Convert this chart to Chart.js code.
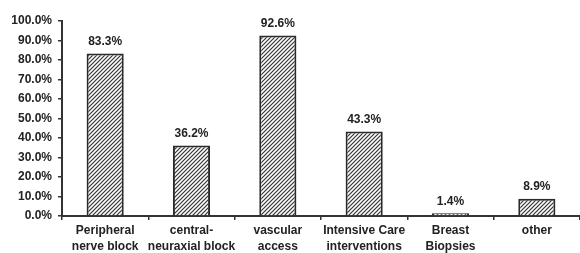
<!DOCTYPE html>
<html>
<head>
<meta charset="utf-8">
<script src="https://cdn.jsdelivr.net/npm/chart.js@4"></script>
<style>
  body { margin: 0; background: #fff; }
  #wrap { width: 580px; height: 253px; }
</style>
</head>
<body>
<div id="wrap"><canvas id="chart"></canvas></div>
<script>
'use strict';
const categories = [
  ['Peripheral', 'nerve block'],
  ['central-', 'neuraxial block'],
  ['vascular', 'access'],
  ['Intensive Care', 'interventions'],
  ['Breast', 'Biopsies'],
  ['other']
];
const percentages = [83.3, 36.2, 92.6, 43.3, 1.4, 8.9];
const yTicks = [0, 10, 20, 30, 40, 50, 60, 70, 80, 90, 100];

const textColor = '#222';
const lineColor = '#333';
const font = { family: 'Liberation Sans, Arial, sans-serif', size: 12, weight: 'bold' };

const ctx = document.getElementById('chart').getContext('2d');

// diagonal hatching for the bars
function makeHatch() {
  const c = document.createElement('canvas');
  c.width = 4;
  c.height = 4;
  const x = c.getContext('2d');
  x.fillStyle = '#fff';
  x.fillRect(0, 0, 4, 4);
  x.strokeStyle = '#333';
  x.lineWidth = 1.2;
  x.beginPath();
  x.moveTo(0, 4); x.lineTo(4, 0);
  x.moveTo(-1, 1); x.lineTo(1, -1);
  x.moveTo(3, 5); x.lineTo(5, 3);
  x.stroke();
  return ctx.createPattern(c, 'repeat');
}

// draws the percentage above every bar
const valueLabels = {
  id: 'valueLabels',
  afterDatasetsDraw(chart) {
    const c = chart.ctx;
    const meta = chart.getDatasetMeta(0);
    c.save();
    c.font = `${font.weight} ${font.size}px ${font.family}`;
    c.fillStyle = textColor;
    c.textAlign = 'center';
    c.textBaseline = 'bottom';
    meta.data.forEach((bar, i) => {
      c.fillText(percentages[i].toFixed(1) + '%', bar.x, bar.y - 6);
    });
    c.restore();
  }
};

new Chart(ctx, {
  type: 'bar',
  data: {
    labels: categories,
    datasets: [{
      data: percentages,
      backgroundColor: makeHatch(),
      borderColor: '#2a2a2a',
      borderWidth: 2,
      categoryPercentage: 1,
      barPercentage: 0.43
    }]
  },
  options: {
    responsive: true,
    maintainAspectRatio: false,
    animation: false,
    layout: { padding: { top: 21, right: 0, left: 0, bottom: 0 } },
    plugins: {
      legend: { display: false },
      tooltip: { enabled: false }
    },
    scales: {
      x: {
        afterFit(scale) { scale.height = 37; },
        grid: { drawOnChartArea: false, tickLength: 4, color: lineColor, lineWidth: 1.5 },
        border: { color: lineColor, width: 2 },
        ticks: {
          color: textColor,
          font: { ...font, lineHeight: 1.3 },
          padding: 3,
          maxRotation: 0,
          autoSkip: false
        }
      },
      y: {
        min: 0,
        max: 100,
        afterFit(scale) { scale.width = 62; },
        afterBuildTicks(scale) { scale.ticks = yTicks.map(v => ({ value: v })); },
        grid: { drawOnChartArea: false, tickLength: 4, color: lineColor, lineWidth: 1.5 },
        border: { color: lineColor, width: 2 },
        ticks: {
          color: textColor,
          font: font,
          padding: 6,
          callback: v => v.toFixed(1) + '%'
        }
      }
    }
  },
  plugins: [valueLabels]
});
</script>
</body>
</html>
